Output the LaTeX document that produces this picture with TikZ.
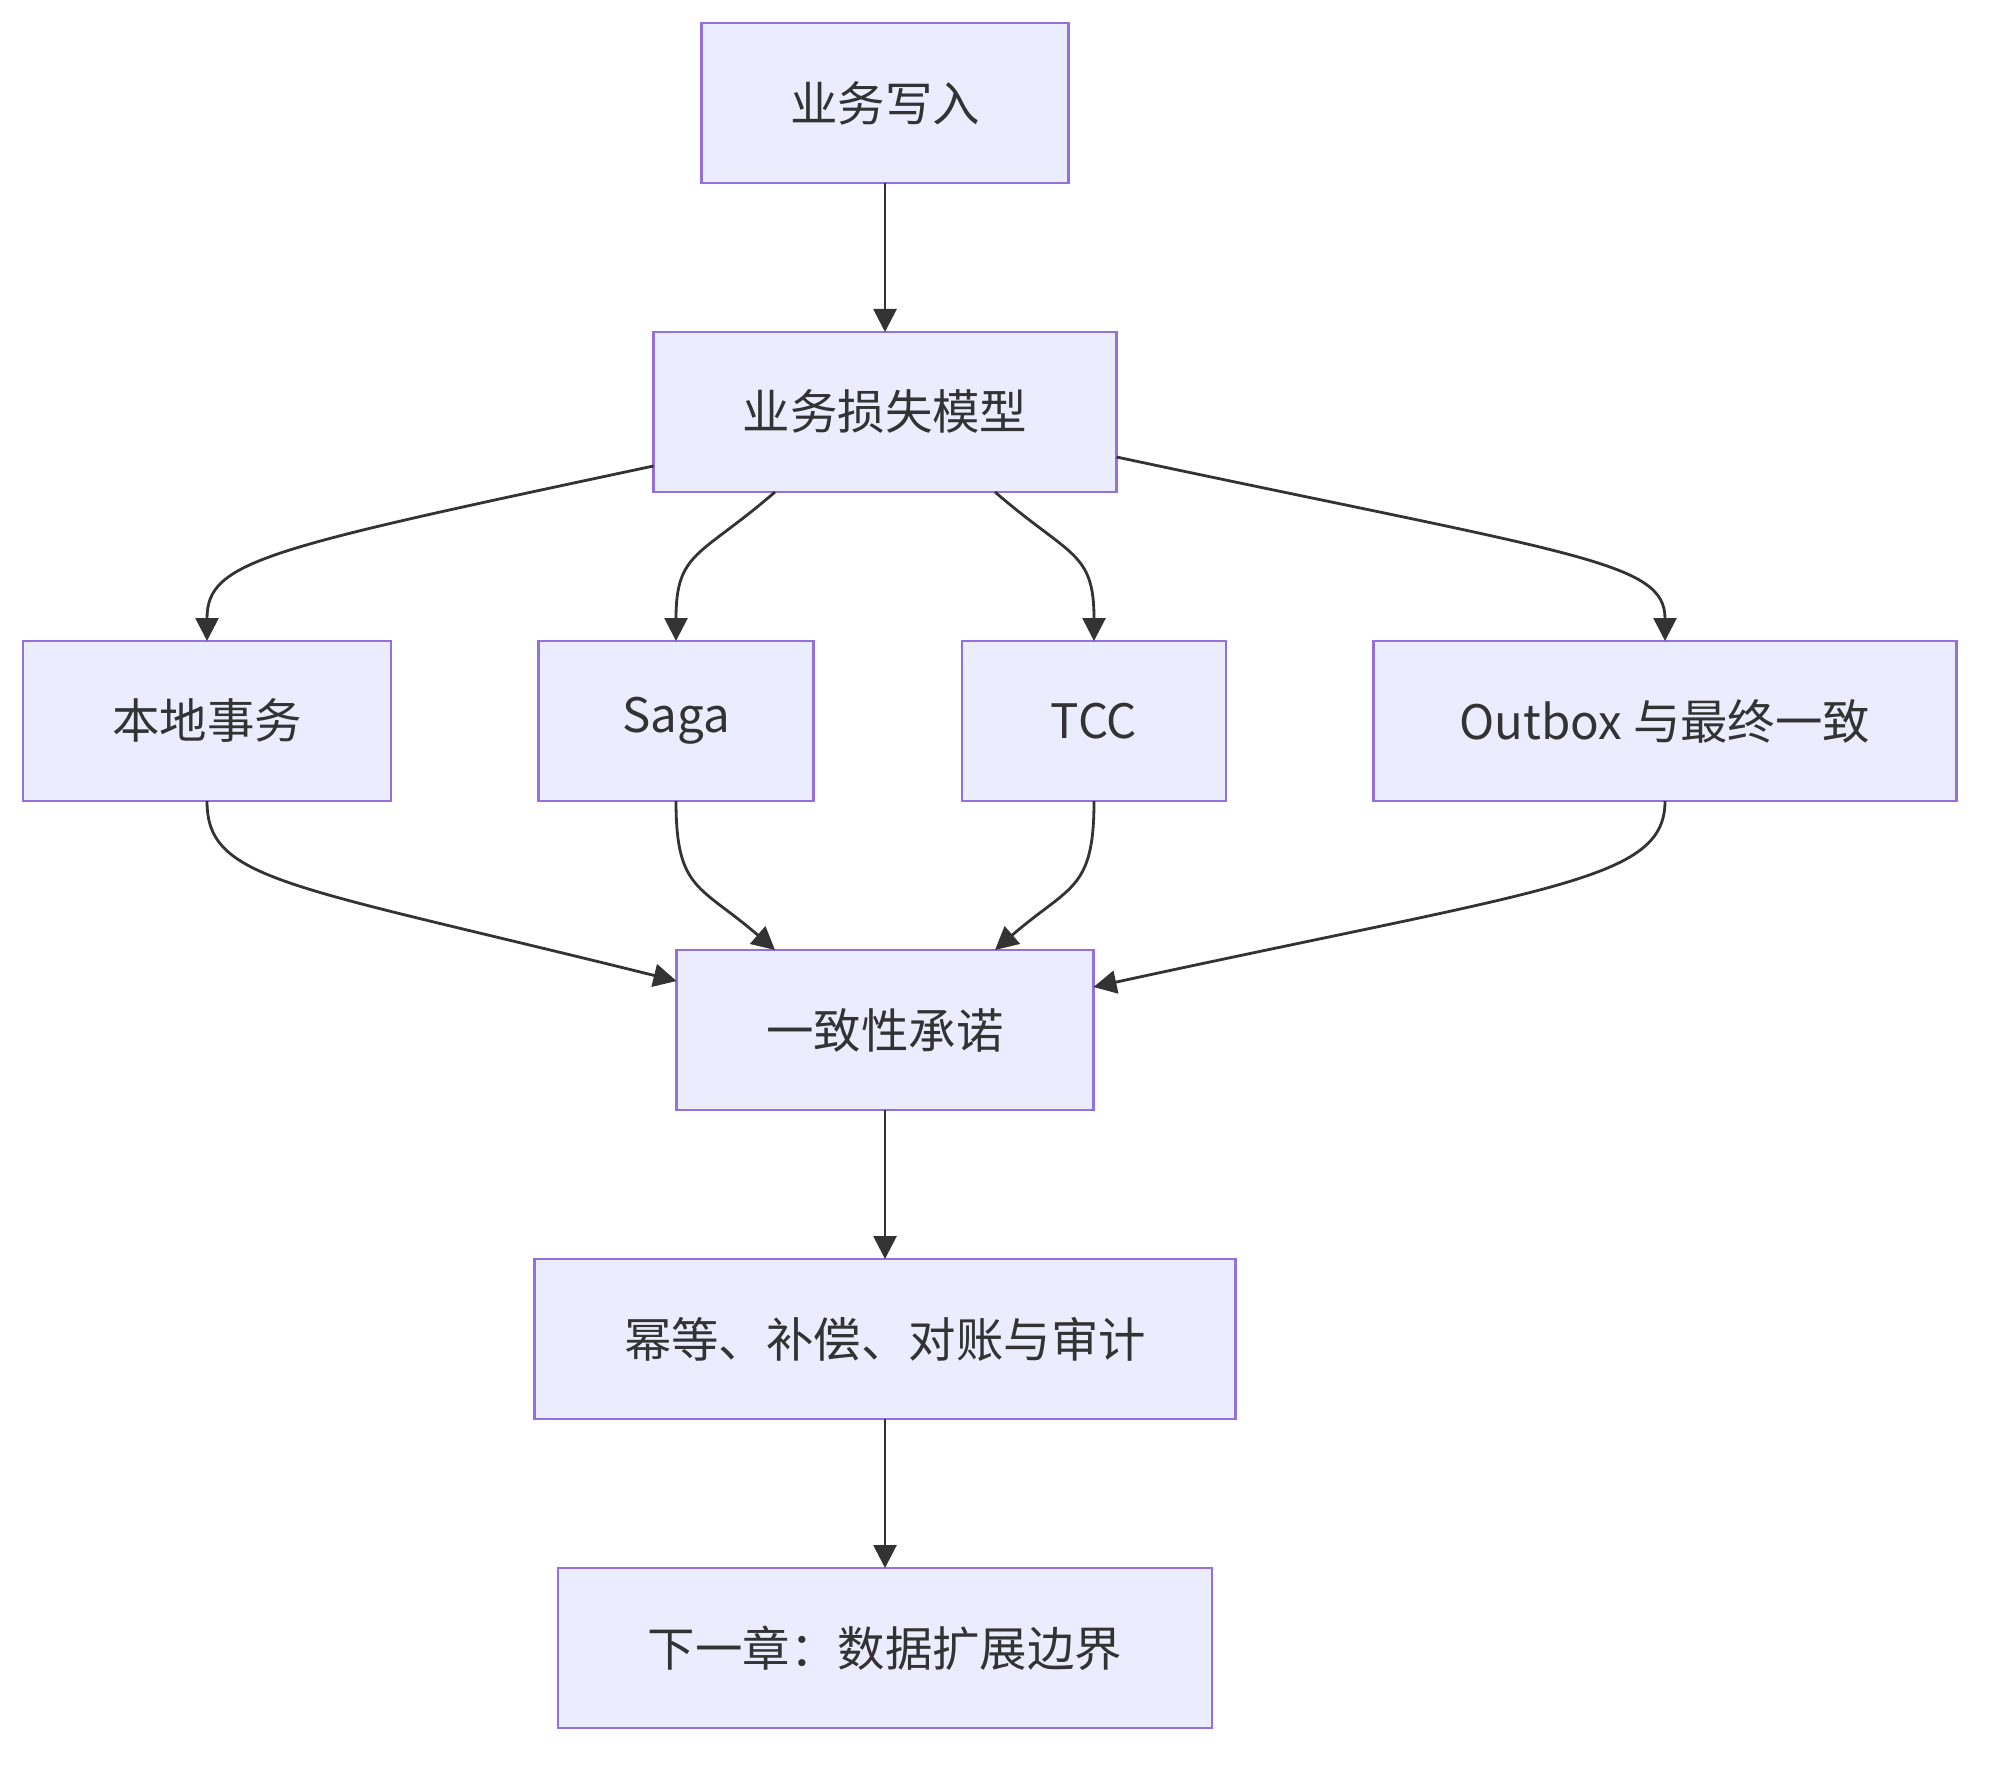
\documentclass[tikz,border=0pt]{standalone}
\usepackage{fontspec}
\setmainfont{Noto Sans CJK SC}
\usepackage{tikz}
\usetikzlibrary{arrows.meta, positioning}
\usepackage{xcolor}
\definecolor{relleno}{HTML}{ECECFF}
\definecolor{borde}{HTML}{9370DB}
\definecolor{tinta}{HTML}{333333}
\tikzset{
  bloque/.style={rectangle, draw=borde, fill=relleno, line width=0.8pt,
                 minimum height=1.6cm, inner sep=0pt, outer sep=0pt, text=tinta,
                 font=\fontsize{13.5pt}{16pt}\selectfont},
  conector/.style={-{Triangle[length=2.3mm, width=2.3mm]}, line width=0.8pt, draw=tinta}
}

\begin{document}
\begin{tikzpicture}[node distance=1.49cm]
    \useasboundingbox (0,0) rectangle (20.04,-17.70);
    \node[bloque, minimum width=3.67cm] (write) at (8.85,-1.03) {业务写入};
    \node[bloque, minimum width=4.63cm, below=of write] (loss) {业务损失模型};
    \node[bloque, minimum width=3.68cm, below=of loss, xshift=-6.78cm] (local) {本地事务};
    \node[bloque, minimum width=2.75cm, below=of loss, xshift=-2.09cm] (saga) {Saga};
    \node[bloque, minimum width=2.64cm, below=of loss, xshift=2.09cm] (tcc) {TCC};
    \node[bloque, minimum width=5.83cm, below=of loss, xshift=7.80cm] (outbox) {Outbox 与最终一致};
    \coordinate (fila) at (loss |- saga.south);
    \node[bloque, minimum width=4.17cm, below=of fila] (promise) {一致性承诺};
    \node[bloque, minimum width=7.01cm, below=of promise] (audit) {幂等、补偿、对账与审计};
    \node[bloque, minimum width=6.54cm, below=of audit] (next) {下一章：数据扩展边界};
    \draw[conector] (write) -- (loss);
    \draw[conector] ([yshift=0.26cm]loss.south west)
      .. controls +(-3.9,-0.83) and +(0,0.8) .. (local.north);
    \draw[conector] ([xshift=-1.1cm]loss.south)
      .. controls +(-0.75,-0.65) and +(0,0.9) .. (saga.north);
    \draw[conector] ([xshift=1.1cm]loss.south)
      .. controls +(0.75,-0.65) and +(0,0.9) .. (tcc.north);
    \draw[conector] ([yshift=0.35cm]loss.south east)
      .. controls +(4.6,-0.98) and +(0,0.8) .. (outbox.north);
    \draw[conector] (local.south)
      .. controls +(0,-0.8) and +(-3.9,0.97) .. ([yshift=-0.31cm]promise.north west);
    \draw[conector] (saga.south)
      .. controls +(0,-0.9) and +(-0.75,0.65) .. ([xshift=-1.1cm]promise.north);
    \draw[conector] (tcc.south)
      .. controls +(0,-0.9) and +(0.75,0.65) .. ([xshift=1.1cm]promise.north);
    \draw[conector] (outbox.south)
      .. controls +(0,-0.8) and +(4.6,1.0) .. ([yshift=-0.37cm]promise.north east);
    \draw[conector] (promise) -- (audit);
    \draw[conector] (audit) -- (next);
\end{tikzpicture}
\end{document}
